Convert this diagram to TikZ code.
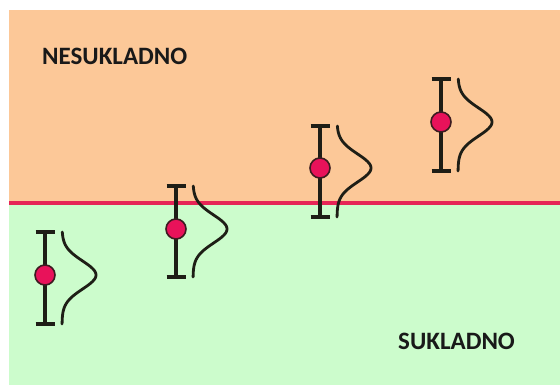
\documentclass[tikz,border=0pt]{standalone}
\usepackage{fontspec}
\setmainfont{Carlito}
\definecolor{topbg}{RGB}{252,200,152}
\definecolor{botbg}{RGB}{204,252,204}
\definecolor{limitline}{RGB}{230,36,86}
\definecolor{dotfill}{RGB}{232,18,90}
\definecolor{barcol}{RGB}{30,30,22}
\tikzset{
  bar/.style={draw=barcol,line width=3.4pt},
  gauss/.style={draw=barcol,line width=2.8pt,line cap=round},
  meandot/.style={circle,fill=dotfill,draw=barcol!85!dotfill,line width=1.6pt,minimum size=20pt,inner sep=0pt},
  lbl/.style={font=\bfseries\fontsize{25}{28}\selectfont,text=black!90,inner sep=0pt}
}
\newcommand{\errbar}[5]{% name, x, top, bottom, mean
  \draw[bar] (#2-9.5,#3) -- (#2+9.5,#3);
  \draw[bar] (#2-9.5,#4) -- (#2+9.5,#4);
  \draw[bar] (#2,#3) -- (#2,#4);
  \draw[gauss] plot[domain=#3:#4,samples=70,smooth] ({#2+17+34*exp(-((\x-#5)^2)/(2*14^2))},{\x});
  \node[meandot] (#1) at (#2,#5) {};
}
\begin{document}
\begin{tikzpicture}[x=1pt,y=-1pt]
\useasboundingbox (0,0) rectangle (560,385);
\fill[white] (0,0) rectangle (560,385);
\fill[topbg] (9,10) rectangle (560,203);
\fill[botbg] (9,203) rectangle (560,385);
\draw[limitline,line width=3.5pt] (9,203) coordinate (l) -- (560,203) coordinate (r);
\node[lbl,anchor=west] (nes) at (42,56) {NESUKLADNO};
\node[lbl,anchor=west] (suk) at (398,341) {SUKLADNO};
\errbar{m1}{45}{232}{324}{275}
\errbar{m2}{176}{186}{277}{229}
\errbar{m3}{320}{126}{217}{168}
\errbar{m4}{441}{79}{171}{122}
\end{tikzpicture}
\end{document}
